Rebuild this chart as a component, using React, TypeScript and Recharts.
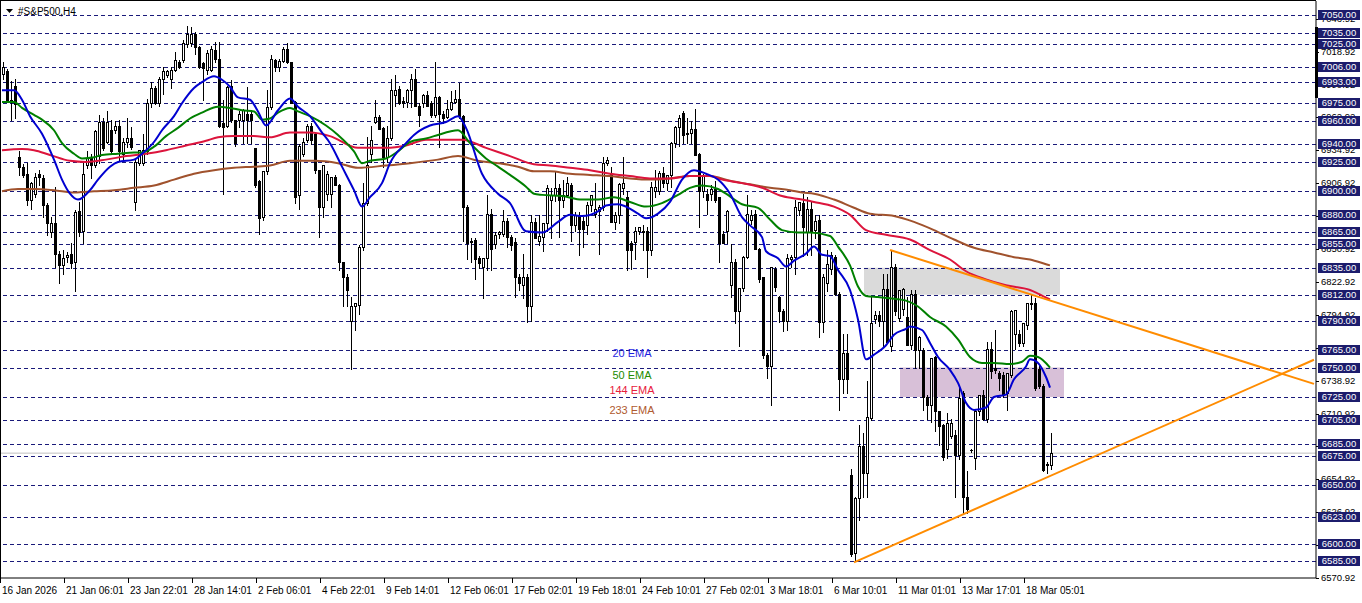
import React from 'react';
import { ComposedChart, Bar, Line, XAxis, YAxis, ReferenceLine, ReferenceArea } from 'recharts';

const SLOT_COUNT = 329;

const opens = [
  7000,7002,6978,6990,6929,6921,6915,6893,6898,6915,
  6911,6888,6865,6873,6847,6837,6844,6847,6840,6883,
  6866,6922,6928,6922,6930,6959,6942,6952,6952,6956,
  6932,6942,6945,6891,6924,6924,6934,6975,6988,6975,
  6996,6999,6996,7003,7010,7012,7025,7026,7034,7023,
  7009,7003,7003,7020,7013,6958,6956,6990,6961,6961,
  6961,6966,6966,6937,6909,6878,6917,6972,7012,7006,
  7011,7021,7010,6976,6897,6932,6944,6956,6949,6918,
  6887,6898,6898,6912,6905,6840,6827,6790,6802,6803,
  6853,6890,6932,6959,6963,6954,6929,6945,6982,6987,
  6977,6976,6986,6996,6973,6975,6982,6975,6965,6980,
  6966,6963,6970,6976,6979,6964,6887,6858,6859,6843,
  6836,6843,6881,6855,6864,6864,6875,6861,6857,6827,
  6820,6827,6802,6874,6858,6861,6873,6893,6897,6903,
  6893,6897,6905,6871,6880,6875,6871,6888,6881,6883,
  6887,6924,6916,6874,6880,6903,6895,6856,6857,6866,
  6866,6866,6850,6900,6900,6916,6907,6914,6941,6955,
  6967,6949,6950,6953,6932,6900,6898,6898,6902,6895,
  6864,6866,6820,6840,6798,6818,6844,6876,6881,6851,
  6827,6761,6751,6834,6810,6798,6790,6842,6844,6884,
  6890,6865,6885,6867,6876,6789,6822,6834,6844,6813,
  6740,6762,6659,6592,6639,6683,6660,6707,6791,6795,
  6790,6817,6768,6836,6792,6800,6793,6769,6813,6765,
  6765,6725,6718,6759,6713,6701,6681,6692,6693,6676,
  6728,6640,6680,6673,6713,6727,6706,6766,6750,6745,
  6744,6728,6744,6779,6779,6771,6786,6804,6805,6749,
  6734,6668,6667,
];
const highs = [
  7010,7004,6994,6996,6934,6923,6924,6908,6916,6918,
  6914,6890,6878,6904,6849,6850,6848,6856,6884,6891,
  6924,6934,6932,6952,6965,6962,6968,6961,6960,6961,
  6945,6962,6955,6927,6935,6949,6979,6993,6990,6997,
  7006,7003,7006,7019,7012,7029,7041,7040,7036,7024,
  7010,7020,7024,7027,7027,6978,6990,6995,6961,6968,
  6970,6989,6969,6937,6910,6917,6986,7016,7013,7013,
  7023,7026,7010,6977,6940,6945,6957,6958,6950,6918,
  6922,6917,6912,6914,6906,6840,6830,6810,6805,6854,
  6907,6946,6956,6978,6965,6955,6956,6996,6999,6990,
  6980,6987,7000,7004,6975,6983,6985,6977,7010,6981,
  6968,6978,6985,6986,6992,6965,6888,6860,6860,6845,
  6843,6897,6885,6865,6866,6884,6877,6863,6860,6830,
  6847,6830,6880,6877,6880,6873,6905,6903,6917,6906,
  6910,6912,6907,6882,6882,6878,6891,6897,6907,6888,
  6929,6929,6921,6882,6907,6929,6900,6858,6870,6870,
  6871,6870,6908,6918,6917,6921,6914,6942,6956,6965,
  6968,6962,6960,6970,6933,6915,6902,6905,6909,6895,
  6866,6884,6855,6842,6818,6845,6897,6884,6884,6852,
  6827,6762,6836,6836,6811,6800,6847,6846,6893,6891,
  6898,6895,6892,6880,6880,6830,6850,6848,6846,6814,
  6779,6779,6664,6640,6701,6694,6739,6810,6798,6798,
  6830,6830,6850,6838,6816,6818,6810,6816,6816,6777,
  6767,6727,6758,6760,6713,6702,6711,6706,6697,6734,
  6730,6662,6681,6714,6727,6731,6772,6772,6782,6747,
  6746,6745,6799,6799,6782,6788,6805,6812,6809,6752,
  6736,6670,6694,
];
const lows = [
  6996,6976,6961,6962,6914,6912,6888,6885,6895,6905,
  6878,6863,6861,6836,6822,6830,6840,6835,6815,6862,
  6856,6920,6911,6921,6924,6935,6941,6932,6950,6927,
  6927,6938,6936,6884,6922,6922,6932,6972,6974,6973,
  6983,6997,6988,7002,7005,7010,7023,7024,7017,7005,
  6978,7000,7002,7010,6955,6898,6955,6959,6939,6955,
  6941,6941,6941,6904,6864,6876,6915,6970,7002,7002,
  7010,7009,6975,6890,6885,6930,6942,6940,6916,6861,
  6878,6893,6887,6905,6833,6802,6802,6749,6782,6796,
  6850,6888,6925,6958,6953,6921,6925,6944,6973,6974,
  6972,6972,6972,6973,6956,6972,6973,6963,6963,6938,
  6958,6962,6969,6975,6962,6858,6842,6840,6825,6835,
  6809,6833,6833,6852,6860,6862,6853,6850,6810,6816,
  6809,6789,6790,6860,6854,6849,6866,6860,6892,6861,
  6887,6896,6858,6866,6846,6853,6864,6883,6878,6847,
  6884,6922,6874,6868,6873,6898,6833,6834,6842,6864,
  6850,6827,6846,6895,6898,6904,6901,6904,6938,6939,
  6941,6941,6941,6931,6870,6895,6881,6893,6891,6840,
  6856,6856,6810,6788,6768,6815,6843,6872,6851,6823,
  6758,6741,6718,6815,6789,6781,6782,6836,6830,6880,
  6845,6846,6846,6860,6776,6780,6815,6830,6812,6714,
  6728,6728,6590,6585,6620,6640,6640,6705,6788,6785,
  6768,6772,6764,6795,6790,6795,6769,6766,6750,6750,
  6714,6706,6704,6696,6684,6671,6673,6690,6640,6672,
  6626,6626,6678,6664,6710,6705,6704,6741,6745,6731,
  6725,6714,6742,6766,6768,6768,6783,6800,6731,6733,
  6662,6660,6664,
];
const closes = [
  7006,6978,6976,6974,6921,6914,6893,6907,6912,6912,
  6888,6873,6873,6847,6837,6843,6846,6839,6882,6865,
  6915,6928,6922,6951,6959,6937,6959,6934,6956,6934,
  6942,6945,6938,6925,6935,6935,6975,6988,6975,6996,
  7002,7002,7003,7012,7006,7026,7034,7034,7023,7006,
  7005,7018,7021,7013,6956,6955,6989,6961,6941,6966,
  6969,6961,6961,6905,6877,6917,6972,7013,7006,7011,
  7021,7010,6975,6895,6939,6942,6956,6944,6918,6887,
  6922,6915,6912,6905,6840,6827,6816,6802,6805,6853,
  6890,6922,6944,6963,6953,6929,6945,6986,6986,6975,
  6975,6986,6996,6973,6965,6982,6973,6965,6980,6966,
  6962,6970,6976,6979,6964,6887,6856,6857,6842,6839,
  6843,6881,6851,6863,6865,6875,6861,6854,6827,6822,
  6827,6802,6874,6860,6862,6873,6903,6897,6903,6893,
  6897,6907,6871,6880,6868,6868,6888,6897,6885,6887,
  6924,6927,6874,6880,6906,6907,6850,6850,6866,6870,
  6865,6850,6904,6904,6916,6907,6914,6941,6955,6962,
  6948,6950,6953,6931,6900,6914,6893,6902,6893,6856,
  6856,6883,6840,6798,6818,6844,6881,6880,6851,6825,
  6761,6751,6836,6819,6798,6790,6843,6844,6887,6891,
  6870,6885,6865,6875,6789,6827,6838,6846,6813,6740,
  6762,6740,6591,6639,6683,6660,6708,6788,6795,6790,
  6817,6772,6836,6798,6816,6817,6769,6813,6765,6776,
  6725,6718,6758,6713,6700,6674,6703,6703,6676,6724,
  6640,6630,6680,6713,6727,6706,6766,6747,6748,6741,
  6727,6745,6798,6799,6771,6788,6805,6805,6733,6734,
  6663,6667,6677,
];

const ema20Pts: [number, number][] = [
  [0,6986],[3,6986],[5,6978],[7,6964],[10,6949],[13,6927],[15,6910],[17,6898],[19,6893],[22,6901],
  [24,6910],[27,6921],[29,6925],[33,6927],[35,6932],[38,6942],[40,6952],[43,6964],[45,6975],[48,6988],
  [50,6993],[53,6998],[55,6995],[57,6989],[59,6980],[62,6978],[64,6968],[66,6956],[69,6969],[72,6979],
  [74,6972],[77,6964],[80,6950],[82,6941],[85,6921],[88,6901],[90,6887],[92,6895],[95,6907],[97,6924],
  [101,6941],[103,6948],[107,6956],[111,6959],[114,6964],[116,6954],[120,6915],[124,6898],[127,6890],[131,6866],
  [135,6865],[139,6874],[142,6880],[145,6879],[149,6883],[151,6888],[154,6889],[156,6887],[159,6881],[161,6877],
  [164,6881],[167,6891],[170,6910],[173,6918],[176,6915],[179,6910],[182,6898],[185,6878],[187,6871],[190,6861],
  [191,6849],[194,6843],[196,6836],[198,6841],[201,6847],[203,6853],[205,6846],[207,6845],[209,6833],[212,6816],
  [214,6791],[216,6757],[218,6761],[221,6769],[223,6778],[226,6783],[227,6785],[230,6782],[232,6771],[234,6759],
  [237,6748],[239,6737],[241,6720],[243,6714],[246,6716],[248,6725],[251,6727],[253,6740],[256,6751],[257,6757],
  [259,6754],[261,6742],[262,6733],
];
const ema50Pts: [number, number][] = [
  [0,6976],[3,6976],[5,6971],[8,6965],[10,6961],[13,6952],[15,6941],[18,6932],[20,6928],[23,6929],
  [25,6931],[29,6932],[33,6933],[35,6933],[38,6938],[41,6947],[44,6954],[47,6962],[50,6967],[54,6972],
  [57,6971],[60,6969],[63,6968],[65,6961],[67,6962],[69,6967],[72,6971],[74,6968],[77,6964],[81,6956],
  [84,6948],[88,6934],[90,6924],[92,6926],[96,6928],[99,6934],[102,6942],[106,6945],[109,6948],[112,6951],
  [114,6952],[117,6941],[121,6928],[124,6921],[127,6914],[131,6904],[133,6898],[135,6897],[140,6896],[145,6893],
  [149,6893],[153,6895],[157,6891],[161,6887],[165,6890],[169,6897],[172,6903],[175,6905],[179,6902],[181,6898],
  [185,6889],[189,6886],[192,6876],[195,6867],[199,6865],[202,6865],[207,6862],[209,6853],[212,6837],[214,6819],
  [216,6811],[219,6810],[222,6809],[226,6807],[229,6802],[232,6793],[236,6785],[239,6774],[242,6759],[245,6754],
  [248,6754],[252,6753],[255,6755],[257,6760],[259,6759],[262,6750],
];
const ema144Pts: [number, number][] = [
  [0,6935],[5,6936],[8,6935],[12,6931],[17,6926],[21,6925],[26,6927],[31,6930],[36,6932],[41,6935],
  [46,6939],[51,6943],[54,6946],[58,6947],[63,6947],[67,6946],[72,6950],[77,6950],[82,6947],[89,6937],
  [96,6937],[101,6939],[106,6944],[111,6944],[115,6944],[121,6937],[127,6930],[133,6923],[137,6922],[142,6920],
  [147,6918],[152,6915],[157,6913],[162,6911],[167,6911],[172,6913],[177,6913],[180,6910],[185,6907],[190,6903],
  [195,6896],[200,6893],[203,6891],[208,6887],[212,6880],[216,6867],[221,6863],[227,6859],[232,6850],[237,6842],
  [241,6832],[246,6825],[251,6820],[257,6816],[259,6813],[262,6808],
];
const ema233Pts: [number, number][] = [
  [0,6900],[4,6902],[8,6902],[13,6901],[18,6899],[23,6900],[28,6901],[33,6903],[38,6905],[43,6910],
  [48,6915],[53,6918],[58,6920],[63,6921],[67,6922],[72,6926],[78,6926],[84,6924],[89,6920],[96,6922],
  [102,6924],[109,6927],[114,6930],[119,6926],[124,6924],[129,6921],[133,6917],[137,6917],[142,6915],[147,6914],
  [152,6913],[157,6911],[162,6910],[167,6911],[172,6913],[177,6913],[182,6909],[187,6906],[192,6903],[197,6901],
  [200,6899],[203,6898],[208,6893],[213,6886],[217,6881],[223,6879],[228,6874],[233,6867],[238,6859],[243,6852],
  [248,6848],[253,6844],[257,6842],[261,6838],[262,6837],
];

const trendUpperPts: [number, number][] = [[222, 6850.1], [328, 6736.1]];
const trendLowerPts: [number, number][] = [[213, 6584.2], [328, 6756.7]];

const levelPrices = [
  7050, 7035, 7025, 7006, 6993, 6975, 6960, 6940, 6925, 6900, 6880, 6865, 6855,
  6835, 6812, 6790, 6765, 6750, 6725, 6705, 6685, 6675, 6650, 6623, 6600, 6585,
];
const scaleTicks = [
  6570.92, 6598.92, 6626.92, 6654.92, 6682.92, 6710.92, 6738.92, 6766.92, 6794.92,
  6822.92, 6850.92, 6878.92, 6906.92, 6934.92, 6962.92, 6990.92, 7018.92, 7046.92,
];
const xTickIndices = [0, 16, 32, 48, 64, 80, 96, 112, 128, 144, 160, 176, 192, 208, 224, 240, 256];
const xTickLabels = [
  '16 Jan 2026', '21 Jan 06:01', '23 Jan 22:01', '28 Jan 14:01', '2 Feb 06:01', '4 Feb 22:01',
  '9 Feb 14:01', '12 Feb 06:01', '17 Feb 02:01', '19 Feb 18:01', '24 Feb 10:01', '27 Feb 02:01',
  '3 Mar 18:01', '6 Mar 10:01', '11 Mar 01:01', '13 Mar 17:01', '18 Mar 05:01',
];
const bidPrice = 6677.2;
const grayZone = { x1: 216, x2: 264, y1: 6812, y2: 6835 };
const purpleZone = { x1: 225, x2: 265, y1: 6725, y2: 6750 };
const priceDomain: [number, number] = [6570.92, 7062];

type Row = {
  i: number;
  range: [number, number] | null;
  open?: number; high?: number; low?: number; close?: number;
  ema20: number | null; ema50: number | null; ema144: number | null; ema233: number | null;
  trendUp: number | null; trendDn: number | null;
};

const rows: Row[] = [];
for (let i = 0; i < SLOT_COUNT; i++) {
  const has = i < closes.length;
  rows.push({
    i,
    range: has ? [lows[i], highs[i]] : null,
    open: has ? opens[i] : undefined,
    high: has ? highs[i] : undefined,
    low: has ? lows[i] : undefined,
    close: has ? closes[i] : undefined,
    ema20: null, ema50: null, ema144: null, ema233: null, trendUp: null, trendDn: null,
  });
}
ema20Pts.forEach(([i, v]) => { rows[i].ema20 = v; });
ema50Pts.forEach(([i, v]) => { rows[i].ema50 = v; });
ema144Pts.forEach(([i, v]) => { rows[i].ema144 = v; });
ema233Pts.forEach(([i, v]) => { rows[i].ema233 = v; });
trendUpperPts.forEach(([i, v]) => { rows[i].trendUp = v; });
trendLowerPts.forEach(([i, v]) => { rows[i].trendDn = v; });

const levelSet = new Set(levelPrices);
const FONT = 'Liberation Sans, Arial, sans-serif';

const Candle = (props: any) => {
  const { x, y, width, height, payload } = props;
  if (!payload || !payload.range || x == null || y == null || isNaN(y)) return null;
  const { open, close, high, low } = payload;
  const top = height < 0 ? y + height : y;
  const h = Math.abs(height);
  const cx = Math.round(x + width / 2);
  const py = (p: number) => (high === low ? top : top + ((high - p) / (high - low)) * h);
  const bodyTop = Math.round(py(Math.max(open, close)));
  const bodyBot = Math.round(py(Math.min(open, close)));
  const up = close >= open;
  const wx = cx + 0.5;
  return (
    <g>
      <line x1={wx} x2={wx} y1={Math.round(top)} y2={Math.round(top + h) + 1} stroke="#000" strokeWidth={1} />
      {bodyBot - bodyTop < 1 ? (
        <line x1={cx - 1} x2={cx + 2} y1={bodyTop + 0.5} y2={bodyTop + 0.5} stroke="#000" strokeWidth={1} />
      ) : (
        <rect x={cx - 0.5} y={bodyTop + 0.5} width={2} height={bodyBot - bodyTop}
          fill={up ? '#ffffff' : '#000000'} stroke="#000" strokeWidth={1} />
      )}
    </g>
  );
};

const XTick = (props: any) => {
  const { x, y, payload } = props;
  const idx = xTickIndices.indexOf(payload.value);
  const label = idx >= 0 ? xTickLabels[idx] : '';
  const lx = Math.round(x) - 1.5;
  return (
    <g>
      <line x1={lx} x2={lx} y1={y} y2={y + 5} stroke="#000" strokeWidth={1} />
      <text x={x} y={y + 16} fontSize={10} fontFamily={FONT} fill="#000">{label}</text>
    </g>
  );
};

const YTick = (props: any) => {
  const { x, y, payload } = props;
  const v: number = payload.value;
  const yy = Math.round(y);
  if (levelSet.has(v)) {
    return (
      <g>
        <rect x={x + 2} y={yy - 5} width={42} height={10} fill="#1c1c6c" />
        <text x={x + 23} y={yy} dy="0.36em" textAnchor="middle" fontSize={9.5} fontFamily={FONT} fill="#ffffff">
          {v.toFixed(2)}
        </text>
      </g>
    );
  }
  return (
    <g>
      <line x1={x} x2={x + 3} y1={yy + 0.5} y2={yy + 0.5} stroke="#000" strokeWidth={1} />
      <text x={x + 5} y={yy} dy="0.36em" fontSize={9.5} fontFamily={FONT} fill="#000">{v.toFixed(2)}</text>
    </g>
  );
};

const DashedLevel = (props: any) => {
  const { x1, x2, y1 } = props;
  if (x1 == null || y1 == null) return null;
  const yy = Math.round(y1) + 0.5;
  return <line x1={x1} x2={x2} y1={yy} y2={yy} stroke="#1a1a7a" strokeWidth={1} strokeDasharray="4 3" />;
};

export default function App() {
  return (
    <div style={{ position: 'absolute', left: 0, top: 0, width: 1362, height: 603, background: '#fff', overflow: 'hidden' }}>
      <ComposedChart width={1362} height={603} data={rows} margin={{ top: 1, right: 0, bottom: 1, left: 0 }}
        barCategoryGap={0} barGap={0}>
        <XAxis dataKey="i" type="category" ticks={xTickIndices} interval={0} tick={<XTick />}
          tickLine={false} tickSize={0} tickMargin={0} height={24} axisLine={{ stroke: '#000' }} />
        <YAxis orientation="right" width={46} type="number" domain={priceDomain} allowDataOverflow
          ticks={[...scaleTicks, ...levelPrices]} interval={0} tick={<YTick />} tickLine={false}
          tickSize={0} tickMargin={0} axisLine={{ stroke: '#000' }} />
        <ReferenceArea x1={grayZone.x1} x2={grayZone.x2} y1={grayZone.y1} y2={grayZone.y2}
          fill="#dadada" fillOpacity={1} stroke="none" zIndex={-60} />
        <ReferenceArea x1={purpleZone.x1} x2={purpleZone.x2} y1={purpleZone.y1} y2={purpleZone.y2}
          fill="#d8c0d8" fillOpacity={1} stroke="none" zIndex={-60} />
        {levelPrices.map((p) => (
          <ReferenceLine key={p} y={p} stroke="#1a1a7a" strokeDasharray="4 3" shape={<DashedLevel />} zIndex={-40} />
        ))}
        <ReferenceLine y={bidPrice} stroke="#c0c0c0" strokeWidth={1} zIndex={-40} />
        <Bar dataKey="range" barSize={3} shape={<Candle />} isAnimationActive={false} />
        <Line dataKey="ema233" stroke="#a0522d" strokeWidth={2} dot={false} activeDot={false} connectNulls type="monotone" isAnimationActive={false} />
        <Line dataKey="ema144" stroke="#dc143c" strokeWidth={2} dot={false} activeDot={false} connectNulls type="monotone" isAnimationActive={false} />
        <Line dataKey="ema50" stroke="#008000" strokeWidth={2} dot={false} activeDot={false} connectNulls type="monotone" isAnimationActive={false} />
        <Line dataKey="ema20" stroke="#0000d0" strokeWidth={2} dot={false} activeDot={false} connectNulls type="monotone" isAnimationActive={false} />
        <Line dataKey="trendUp" stroke="#ff8c00" strokeWidth={2} dot={false} activeDot={false} connectNulls type="linear" isAnimationActive={false} />
        <Line dataKey="trendDn" stroke="#ff8c00" strokeWidth={2} dot={false} activeDot={false} connectNulls type="linear" isAnimationActive={false} />
      </ComposedChart>
      <svg width={1362} height={603} style={{ position: 'absolute', left: 0, top: 0, pointerEvents: 'none' }}>
        <rect x={0} y={0} width={1316} height={1} fill="#000" />
        <rect x={0} y={0} width={1} height={578} fill="#000" />
        <rect x={1315} y={27} width={3} height={71} fill="#000" />
        <polygon points="6,9 13,9 9.5,13" fill="#000" />
        <text x={18} y={15} fontSize={10} fontFamily={FONT} fill="#000">#S&amp;P500,H4</text>
        <text x={632} y={353} dy="0.35em" textAnchor="middle" fontSize={11} fontFamily={FONT} fill="#1e1ee0">20 EMA</text>
        <text x={632} y={375} dy="0.35em" textAnchor="middle" fontSize={11} fontFamily={FONT} fill="#228b00">50 EMA</text>
        <text x={632} y={390} dy="0.35em" textAnchor="middle" fontSize={11} fontFamily={FONT} fill="#e8203c">144 EMA</text>
        <text x={632} y={410} dy="0.35em" textAnchor="middle" fontSize={11} fontFamily={FONT} fill="#b05a30">233 EMA</text>
      </svg>
    </div>
  );
}
